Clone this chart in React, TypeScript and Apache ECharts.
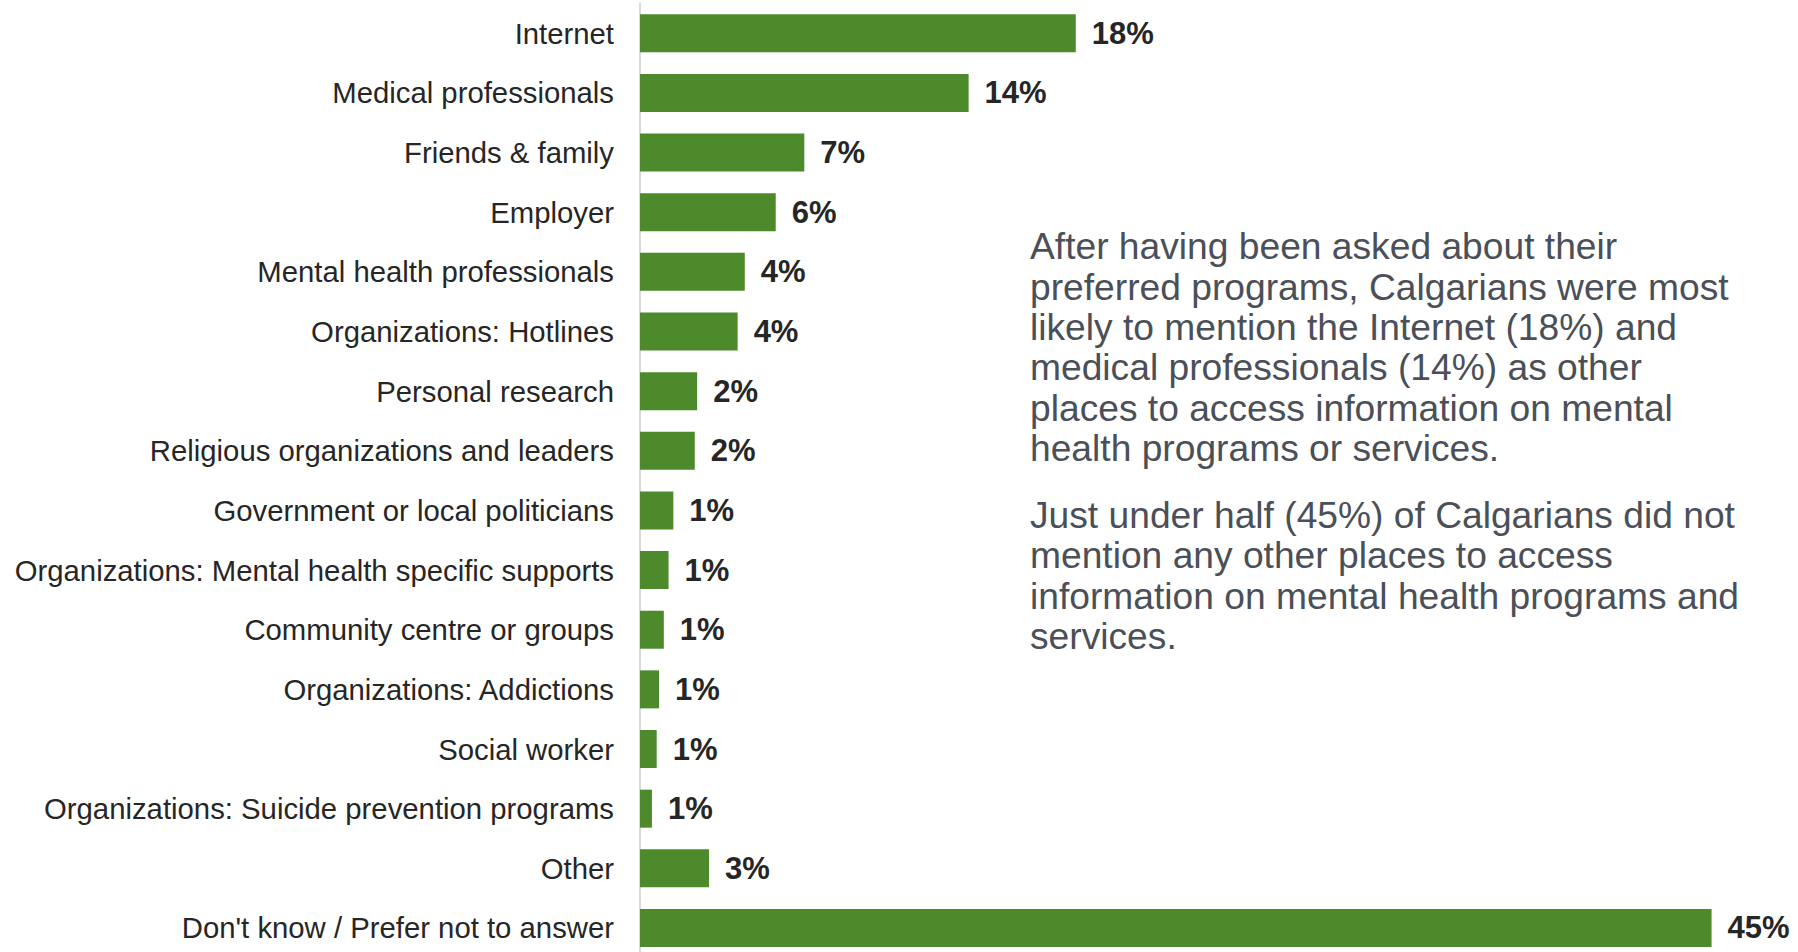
import React, { useEffect, useRef } from "react";
import * as echarts from "echarts";

const categories = [
  "Internet",
  "Medical professionals",
  "Friends & family",
  "Employer",
  "Mental health professionals",
  "Organizations: Hotlines",
  "Personal research",
  "Religious organizations and leaders",
  "Government or local politicians",
  "Organizations: Mental health specific supports",
  "Community centre or groups",
  "Organizations: Addictions",
  "Social worker",
  "Organizations: Suicide prevention programs",
  "Other",
  "Don't know / Prefer not to answer",
];

const values = [18.3, 13.8, 6.9, 5.7, 4.4, 4.1, 2.4, 2.3, 1.4, 1.2, 1.0, 0.8, 0.7, 0.5, 2.9, 45.0];
const shownPct = [18, 14, 7, 6, 4, 4, 2, 2, 1, 1, 1, 1, 1, 1, 3, 45];

const paragraph1 = [
  "After having been asked about their",
  "preferred programs, Calgarians were most",
  "likely to mention the Internet (18%) and",
  "medical professionals (14%) as other",
  "places to access information on mental",
  "health programs or services.",
];
const paragraph2 = [
  "Just under half (45%) of Calgarians did not",
  "mention any other places to access",
  "information on mental health programs and",
  "services.",
];

const FONT = "'Liberation Sans', Arial, Helvetica, sans-serif";

export default function App() {
  const ref = useRef<HTMLDivElement>(null);
  useEffect(() => {
    if (!ref.current) return;
    const chart = echarts.init(ref.current, null, { renderer: "svg" });
    chart.setOption({
      animation: false,
      backgroundColor: "#ffffff",
      grid: { left: 640, top: 3.4, right: 0, height: 954.4, containLabel: false },
      xAxis: {
        type: "value",
        min: 0,
        max: 48.63,
        show: false,
        splitLine: { show: false },
      },
      yAxis: {
        type: "category",
        data: categories,
        inverse: true,
        axisTick: { show: false },
        axisLine: { show: true, lineStyle: { color: "#d9d9d9", width: 2 } },
        axisLabel: {
          margin: 26,
          fontSize: 29.3,
          fontFamily: FONT,
          color: "#262626",
        },
      },
      series: [
        {
          type: "bar",
          data: values,
          barWidth: 38,
          itemStyle: { color: "#4c8a2b" },
          label: {
            show: true,
            position: "right",
            distance: 16,
            fontSize: 31,
            fontWeight: "bold",
            fontFamily: FONT,
            color: "#262626",
            formatter: (p: any) => shownPct[p.dataIndex] + "%",
          },
        },
      ],
      graphic: [
        {
          type: "text",
          left: 1030,
          top: 226,
          style: {
            text: paragraph1.join("\n"),
            fontSize: 37.2,
            lineHeight: 40.4,
            fontFamily: FONT,
            fill: "#4b4f58",
          },
        },
        {
          type: "text",
          left: 1030,
          top: 494.7,
          style: {
            text: paragraph2.join("\n"),
            fontSize: 37.2,
            lineHeight: 40.4,
            fontFamily: FONT,
            fill: "#4b4f58",
          },
        },
      ],
    });
    return () => chart.dispose();
  }, []);
  return (
    <div
      ref={ref}
      style={{ position: "fixed", left: 0, top: 0, width: 1798, height: 960 }}
    />
  );
}
